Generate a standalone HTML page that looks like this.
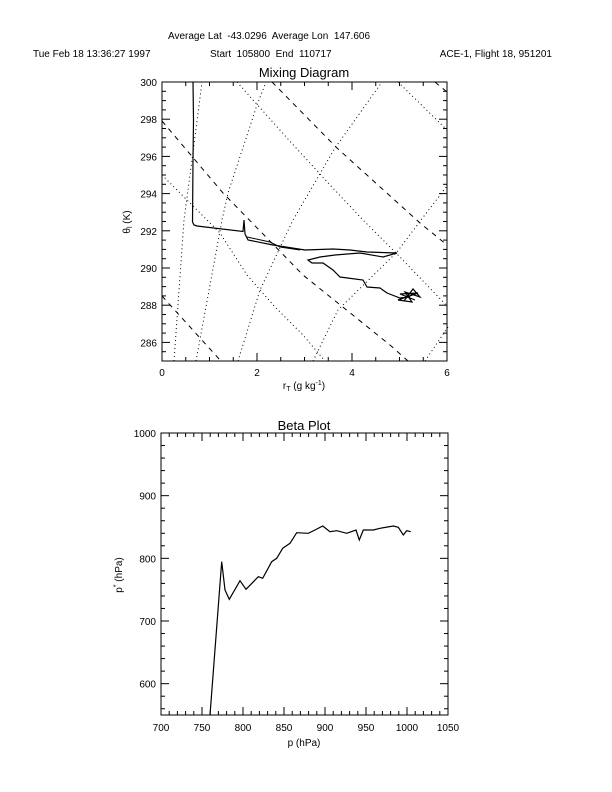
<!DOCTYPE html>
<html><head><meta charset="utf-8"><style>
body{margin:0;background:#fff}
svg{display:block}
text{font-family:"Liberation Sans",sans-serif;fill:#000;white-space:pre}
</style></head><body>
<svg id="s" width="612" height="792" viewBox="0 0 612 792" xmlns="http://www.w3.org/2000/svg" xml:space="preserve">
<rect width="612" height="792" fill="#fff"/>
<text x="269" y="39" font-size="10" text-anchor="middle">Average Lat  -43.0296  Average Lon  147.606</text>
<text x="33" y="57" font-size="10">Tue Feb 18 13:36:27 1997</text>
<text x="210" y="57" font-size="10">Start  105800  End  110717</text>
<text x="552" y="57" font-size="10" text-anchor="end">ACE-1, Flight 18, 951201</text>
<text x="304" y="77" font-size="13" text-anchor="middle">Mixing Diagram</text>
<text x="304" y="430" font-size="13" text-anchor="middle">Beta Plot</text>

<g fill="none" stroke="#000" stroke-width="1">
<g stroke-dasharray="1,3">
<polyline points="174,361 184,220 192,160 202,82"/>
<polyline points="196,361 222,220 228,193 257,105 266,82"/>
<polyline points="238,361 260,290 293,220 300,208 335,148 382,82"/>
<polyline points="313,361 338,310 397,252 421,220 447,186"/>
<polyline points="425,361 448,327"/>
<polyline points="162,175 220,233 247,275 275,307 303,335 325,361"/>
<polyline points="237,82 287,138 330,185 363,220 400,257 447,306"/>
<polyline points="398,82 447,130"/>
</g>
<g stroke-dasharray="5,5">
<polyline points="162,121 223,193 303,275 390,345 408,361"/>
<polyline points="162,296 220,360"/>
<polyline points="272,82 337,148 420,223 447,245"/>
<polyline points="435,82 447,92"/>
</g>
<polyline stroke-width="1.2" points="193,82 193.5,120 193,160 192.5,222 194,225 197,226 243,231.5 244,220 245,234 248,240 273,245 305,250 333,249 350,250 367,252 397,253 383,257 360,253 335,255 320,257 308,260 312,263 323,263 333,270 340,277 363,280 367,287 380,288 387,293 400,298 410,297 405,296 415,300 400,294 418,293 398,300 412,302 405,292 420,297 413,289 404,301"/>
<polyline points="247,237 270,242 280,247 300,250"/>
<polyline stroke-width="1.2" points="210,715 221.7,561.7 225,590 229.3,599.3 240,580.7 246,589.3 258.3,576.7 262.7,578.3 271.7,561.7 276.7,558.3 282.7,548.3 290,543.3 296.7,532.7 308.3,533.3 315,530 322.7,526 330,531.7 336.7,530.7 346.7,533.3 356,530 359.3,540 363.3,530 373.3,530 380,528.3 393.3,526 398.3,527.3 403.3,535 406.7,530.7 410.7,531.7"/>
<rect x="162" y="82" width="285" height="279"/>
<rect x="161" y="433" width="287" height="282"/>
</g>
<g id="ticks" stroke="#000" stroke-width="1"></g>
<g id="labs" font-size="10"></g>
<text transform="translate(130,222) rotate(-90)" font-size="10" text-anchor="middle">θ<tspan font-size="7" dy="2">l</tspan><tspan dy="-2"> (K)</tspan></text>
<text x="304" y="389" font-size="10" text-anchor="middle">r<tspan font-size="7" dy="2">T</tspan><tspan dy="-2"> (g kg</tspan><tspan font-size="7" dy="-4">-1</tspan><tspan dy="4">)</tspan></text>
<text transform="translate(122,575) rotate(-90)" font-size="10" text-anchor="middle">p<tspan font-size="7" dy="-4">*</tspan><tspan dy="4"> (hPa)</tspan></text>
<text x="304" y="746" font-size="10" text-anchor="middle">p (hPa)</text>
</svg>
<script>
var t=document.getElementById('ticks'),l=document.getElementById('labs'),NS='http://www.w3.org/2000/svg';
function ln(a,b,c,d){var e=document.createElementNS(NS,'line');e.setAttribute('x1',a);e.setAttribute('y1',b);e.setAttribute('x2',c);e.setAttribute('y2',d);t.appendChild(e);}
function tx(x,y,s,anc){var e=document.createElementNS(NS,'text');e.setAttribute('x',x);e.setAttribute('y',y);e.setAttribute('text-anchor',anc);e.textContent=s;l.appendChild(e);}
var L=162,R=447,T=82,B=361;
for(var i=0;i<=12;i++){var x=L+i*(R-L)/12,len=i%4==0?8:4;ln(x,B,x,B-len);ln(x,T,x,T+len);if(i%4==0)tx(x,376,String(i/2),'middle');}
for(var i=0;i<=30;i++){var y=B-i*(B-T)/30,len=i%4==2?8:4;ln(L,y,L+len,y);ln(R,y,R-len,y);if(i%4==2)tx(157,y+4,String(285+i/2),'end');}
L=161;R=448;T=433;B=715;
for(var i=0;i<=35;i++){var x=L+i*(R-L)/35,len=i%5==0?8:4;ln(x,B,x,B-len);ln(x,T,x,T+len);if(i%5==0)tx(x,731,String(700+i*10),'middle');}
for(var i=0;i<=22;i++){var v=560+i*20;var y=B-(v-550)*(B-T)/450,len=(v%100==0)?8:4;ln(L,y,L+len,y);ln(R,y,R-len,y);if(v%100==0)tx(156,y+4,String(v),'end');}
</script>
</body></html>
